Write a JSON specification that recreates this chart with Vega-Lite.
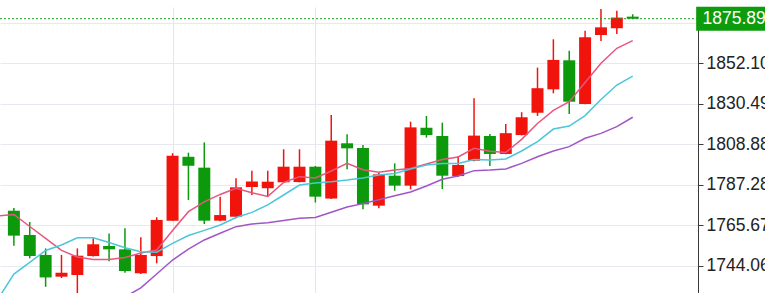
{
  "$schema": "https://vega.github.io/schema/vega-lite/v6.json",
  "width": 698,
  "height": 286,
  "autosize": {"type": "none"},
  "padding": {"left": 0, "top": 7, "right": 67, "bottom": 0},
  "background": "white",
  "config": {"view": {"stroke": null}, "font": "Liberation Sans"},
  "datasets": {
    "candles": [
      {"i": 0, "open": 1773.4, "high": 1774.8, "low": 1754.7, "close": 1760.1},
      {"i": 1, "open": 1760.4, "high": 1767.4, "low": 1748.0, "close": 1749.2},
      {"i": 2, "open": 1749.8, "high": 1753.3, "low": 1732.8, "close": 1737.8},
      {"i": 3, "open": 1738.2, "high": 1749.8, "low": 1737.5, "close": 1740.3},
      {"i": 4, "open": 1739.1, "high": 1753.3, "low": 1726.0, "close": 1749.4},
      {"i": 5, "open": 1749.2, "high": 1758.7, "low": 1749.0, "close": 1755.5},
      {"i": 6, "open": 1754.6, "high": 1761.3, "low": 1746.5, "close": 1752.8},
      {"i": 7, "open": 1752.8, "high": 1764.0, "low": 1740.3, "close": 1741.2},
      {"i": 8, "open": 1740.0, "high": 1759.2, "low": 1739.6, "close": 1749.8},
      {"i": 9, "open": 1749.2, "high": 1769.9, "low": 1745.3, "close": 1768.5},
      {"i": 10, "open": 1768.1, "high": 1804.1, "low": 1768.0, "close": 1802.8},
      {"i": 11, "open": 1802.2, "high": 1804.4, "low": 1779.1, "close": 1797.4},
      {"i": 12, "open": 1796.4, "high": 1809.9, "low": 1766.3, "close": 1768.1},
      {"i": 13, "open": 1768.1, "high": 1780.9, "low": 1767.8, "close": 1771.1},
      {"i": 14, "open": 1770.2, "high": 1790.7, "low": 1769.4, "close": 1785.9},
      {"i": 15, "open": 1786.1, "high": 1794.8, "low": 1781.8, "close": 1789.0},
      {"i": 16, "open": 1785.4, "high": 1794.8, "low": 1780.9, "close": 1788.9},
      {"i": 17, "open": 1788.6, "high": 1806.2, "low": 1788.3, "close": 1796.9},
      {"i": 18, "open": 1788.7, "high": 1806.2, "low": 1788.5, "close": 1796.9},
      {"i": 19, "open": 1796.9, "high": 1797.3, "low": 1777.8, "close": 1780.9},
      {"i": 20, "open": 1779.9, "high": 1824.5, "low": 1779.6, "close": 1810.8},
      {"i": 21, "open": 1809.4, "high": 1814.2, "low": 1795.5, "close": 1806.7},
      {"i": 22, "open": 1806.9, "high": 1808.5, "low": 1774.2, "close": 1776.8},
      {"i": 23, "open": 1776.1, "high": 1793.7, "low": 1774.7, "close": 1792.8},
      {"i": 24, "open": 1792.1, "high": 1798.7, "low": 1784.1, "close": 1786.8},
      {"i": 25, "open": 1786.8, "high": 1820.9, "low": 1784.8, "close": 1817.9},
      {"i": 26, "open": 1817.7, "high": 1824.0, "low": 1812.4, "close": 1813.8},
      {"i": 27, "open": 1813.3, "high": 1820.4, "low": 1785.0, "close": 1792.1},
      {"i": 28, "open": 1791.9, "high": 1802.6, "low": 1791.5, "close": 1797.8},
      {"i": 29, "open": 1800.1, "high": 1833.4, "low": 1799.8, "close": 1813.5},
      {"i": 30, "open": 1813.3, "high": 1814.4, "low": 1797.3, "close": 1803.7},
      {"i": 31, "open": 1803.7, "high": 1819.7, "low": 1803.5, "close": 1814.8},
      {"i": 32, "open": 1813.8, "high": 1826.0, "low": 1813.6, "close": 1823.3},
      {"i": 33, "open": 1825.7, "high": 1849.8, "low": 1824.0, "close": 1838.8},
      {"i": 34, "open": 1838.2, "high": 1864.9, "low": 1836.1, "close": 1853.9},
      {"i": 35, "open": 1853.7, "high": 1858.8, "low": 1825.0, "close": 1831.6},
      {"i": 36, "open": 1830.4, "high": 1869.5, "low": 1830.2, "close": 1866.0},
      {"i": 37, "open": 1867.2, "high": 1881.1, "low": 1864.0, "close": 1871.3},
      {"i": 38, "open": 1870.8, "high": 1880.2, "low": 1867.8, "close": 1876.5},
      {"i": 39, "open": 1877.0, "high": 1878.3, "low": 1875.7, "close": 1875.89}
    ],
    "ma": [
      {"series": "fast", "i": -1, "value": 1770.6},
      {"series": "fast", "i": 0, "value": 1771.4},
      {"series": "fast", "i": 1, "value": 1765.0},
      {"series": "fast", "i": 2, "value": 1758.7},
      {"series": "fast", "i": 3, "value": 1752.2},
      {"series": "fast", "i": 4, "value": 1748.7},
      {"series": "fast", "i": 5, "value": 1747.4},
      {"series": "fast", "i": 6, "value": 1747.4},
      {"series": "fast", "i": 7, "value": 1748.4},
      {"series": "fast", "i": 8, "value": 1750.8},
      {"series": "fast", "i": 9, "value": 1752.4},
      {"series": "fast", "i": 10, "value": 1762.9},
      {"series": "fast", "i": 11, "value": 1772.9},
      {"series": "fast", "i": 12, "value": 1778.1},
      {"series": "fast", "i": 13, "value": 1782.1},
      {"series": "fast", "i": 14, "value": 1785.4},
      {"series": "fast", "i": 15, "value": 1783.0},
      {"series": "fast", "i": 16, "value": 1781.0},
      {"series": "fast", "i": 17, "value": 1788.5},
      {"series": "fast", "i": 18, "value": 1791.6},
      {"series": "fast", "i": 19, "value": 1790.9},
      {"series": "fast", "i": 20, "value": 1794.6},
      {"series": "fast", "i": 21, "value": 1798.7},
      {"series": "fast", "i": 22, "value": 1795.3},
      {"series": "fast", "i": 23, "value": 1793.9},
      {"series": "fast", "i": 24, "value": 1795.1},
      {"series": "fast", "i": 25, "value": 1795.9},
      {"series": "fast", "i": 26, "value": 1798.3},
      {"series": "fast", "i": 27, "value": 1800.7},
      {"series": "fast", "i": 28, "value": 1802.1},
      {"series": "fast", "i": 29, "value": 1806.7},
      {"series": "fast", "i": 30, "value": 1805.1},
      {"series": "fast", "i": 31, "value": 1804.5},
      {"series": "fast", "i": 32, "value": 1811.5},
      {"series": "fast", "i": 33, "value": 1820.0},
      {"series": "fast", "i": 34, "value": 1827.0},
      {"series": "fast", "i": 35, "value": 1831.6},
      {"series": "fast", "i": 36, "value": 1841.9},
      {"series": "fast", "i": 37, "value": 1852.1},
      {"series": "fast", "i": 38, "value": 1860.1},
      {"series": "fast", "i": 39, "value": 1864.2},
      {"series": "mid", "i": -1, "value": 1726.3},
      {"series": "mid", "i": 0, "value": 1739.6},
      {"series": "mid", "i": 1, "value": 1745.8},
      {"series": "mid", "i": 2, "value": 1752.2},
      {"series": "mid", "i": 3, "value": 1755.1},
      {"series": "mid", "i": 4, "value": 1759.0},
      {"series": "mid", "i": 5, "value": 1759.0},
      {"series": "mid", "i": 6, "value": 1756.4},
      {"series": "mid", "i": 7, "value": 1753.6},
      {"series": "mid", "i": 8, "value": 1751.5},
      {"series": "mid", "i": 9, "value": 1751.3},
      {"series": "mid", "i": 10, "value": 1756.0},
      {"series": "mid", "i": 11, "value": 1760.2},
      {"series": "mid", "i": 12, "value": 1762.9},
      {"series": "mid", "i": 13, "value": 1765.8},
      {"series": "mid", "i": 14, "value": 1769.8},
      {"series": "mid", "i": 15, "value": 1772.5},
      {"series": "mid", "i": 16, "value": 1776.5},
      {"series": "mid", "i": 17, "value": 1781.8},
      {"series": "mid", "i": 18, "value": 1787.1},
      {"series": "mid", "i": 19, "value": 1788.2},
      {"series": "mid", "i": 20, "value": 1788.9},
      {"series": "mid", "i": 21, "value": 1789.8},
      {"series": "mid", "i": 22, "value": 1790.9},
      {"series": "mid", "i": 23, "value": 1792.5},
      {"series": "mid", "i": 24, "value": 1793.3},
      {"series": "mid", "i": 25, "value": 1795.7},
      {"series": "mid", "i": 26, "value": 1797.8},
      {"series": "mid", "i": 27, "value": 1798.6},
      {"series": "mid", "i": 28, "value": 1798.6},
      {"series": "mid", "i": 29, "value": 1800.7},
      {"series": "mid", "i": 30, "value": 1800.5},
      {"series": "mid", "i": 31, "value": 1801.0},
      {"series": "mid", "i": 32, "value": 1805.3},
      {"series": "mid", "i": 33, "value": 1810.3},
      {"series": "mid", "i": 34, "value": 1817.0},
      {"series": "mid", "i": 35, "value": 1818.6},
      {"series": "mid", "i": 36, "value": 1824.2},
      {"series": "mid", "i": 37, "value": 1832.8},
      {"series": "mid", "i": 38, "value": 1840.5},
      {"series": "mid", "i": 39, "value": 1845.3},
      {"series": "slow", "i": 6, "value": 1720.4},
      {"series": "slow", "i": 7, "value": 1727.4},
      {"series": "slow", "i": 8, "value": 1732.2},
      {"series": "slow", "i": 9, "value": 1739.6},
      {"series": "slow", "i": 10, "value": 1747.1},
      {"series": "slow", "i": 11, "value": 1752.9},
      {"series": "slow", "i": 12, "value": 1757.8},
      {"series": "slow", "i": 13, "value": 1761.4},
      {"series": "slow", "i": 14, "value": 1764.9},
      {"series": "slow", "i": 15, "value": 1766.3},
      {"series": "slow", "i": 16, "value": 1767.0},
      {"series": "slow", "i": 17, "value": 1768.2},
      {"series": "slow", "i": 18, "value": 1769.4},
      {"series": "slow", "i": 19, "value": 1769.8},
      {"series": "slow", "i": 20, "value": 1772.6},
      {"series": "slow", "i": 21, "value": 1775.4},
      {"series": "slow", "i": 22, "value": 1777.2},
      {"series": "slow", "i": 23, "value": 1779.3},
      {"series": "slow", "i": 24, "value": 1781.4},
      {"series": "slow", "i": 25, "value": 1783.4},
      {"series": "slow", "i": 26, "value": 1786.6},
      {"series": "slow", "i": 27, "value": 1790.2},
      {"series": "slow", "i": 28, "value": 1791.9},
      {"series": "slow", "i": 29, "value": 1794.8},
      {"series": "slow", "i": 30, "value": 1795.1},
      {"series": "slow", "i": 31, "value": 1795.7},
      {"series": "slow", "i": 32, "value": 1798.7},
      {"series": "slow", "i": 33, "value": 1802.2},
      {"series": "slow", "i": 34, "value": 1805.3},
      {"series": "slow", "i": 35, "value": 1807.6},
      {"series": "slow", "i": 36, "value": 1812.1},
      {"series": "slow", "i": 37, "value": 1814.7},
      {"series": "slow", "i": 38, "value": 1818.3},
      {"series": "slow", "i": 39, "value": 1823.3}
    ],
    "last": [{"price": 1875.89}]
  },
  "layer": [
    {
      "data": {"name": "candles"},
      "mark": {"type": "rule", "strokeWidth": 1.5, "clip": true},
      "encoding": {
        "x": {
          "field": "i", "type": "quantitative",
          "scale": {"domain": [-0.56, 42.8], "nice": false, "zero": false},
          "axis": {"values": [10, 19], "labels": false, "ticks": false, "domain": false, "title": null, "grid": true, "gridColor": "#e3e8ef", "gridWidth": 1}
        },
        "y": {
          "field": "low", "type": "quantitative",
          "scale": {"domain": [1729.49, 1882.15], "nice": false, "zero": false},
          "axis": {
            "orient": "right", "title": null,
            "values": [1744.06, 1765.67, 1787.28, 1808.88, 1830.49, 1852.10, 1873.71],
            "labelExpr": "datum.value > 1870 ? '' : format(datum.value, '.2f')",
            "grid": true, "gridColor": "#e6eaf0", "gridWidth": 1,
            "domainColor": "#3a3a3a", "domainWidth": 1,
            "tickColor": "#3a3a3a", "tickSize": 5,
            "labelPadding": 3, "labelFontSize": 17.5, "labelColor": "#222222",
            "labelFont": "Liberation Sans", "labelOverlap": false
          }
        },
        "y2": {"field": "high"},
        "color": {"condition": {"test": "datum.close > datum.open", "value": "#f0140c"}, "value": "#0c9a0c"}
      }
    },
    {
      "data": {"name": "candles"},
      "mark": {"type": "bar", "width": 12, "clip": true},
      "encoding": {
        "x": {"field": "i", "type": "quantitative"},
        "y": {"field": "open", "type": "quantitative"},
        "y2": {"field": "close"},
        "color": {"condition": {"test": "datum.close > datum.open", "value": "#f0140c"}, "value": "#0c9a0c"}
      }
    },
    {
      "data": {"name": "ma"},
      "mark": {"type": "line", "strokeWidth": 1.5, "clip": true},
      "encoding": {
        "x": {"field": "i", "type": "quantitative"},
        "y": {"field": "value", "type": "quantitative"},
        "color": {
          "field": "series", "type": "nominal",
          "scale": {"domain": ["fast", "mid", "slow"], "range": ["#e6577f", "#4cc6d8", "#a255c6"]},
          "legend": null
        }
      }
    },
    {
      "data": {"name": "last"},
      "mark": {"type": "rule", "strokeDash": [2, 2], "color": "#1c9c1c", "strokeWidth": 1},
      "encoding": {
        "y": {"field": "price", "type": "quantitative"}
      }
    },
    {
      "data": {"name": "last"},
      "mark": {"type": "rule", "strokeWidth": 24, "strokeCap": "butt", "color": "#0c9c0c"},
      "encoding": {
        "x": {"datum": 43},
        "x2": {"datum": 48},
        "y": {"field": "price", "type": "quantitative"}
      }
    },
    {
      "data": {"name": "last"},
      "mark": {"type": "text", "align": "left", "baseline": "middle", "color": "white", "fontSize": 17.5, "font": "Liberation Sans"},
      "encoding": {
        "x": {"datum": 43.4},
        "y": {"field": "price", "type": "quantitative"},
        "text": {"field": "price", "type": "quantitative", "format": ".2f"}
      }
    }
  ]
}
